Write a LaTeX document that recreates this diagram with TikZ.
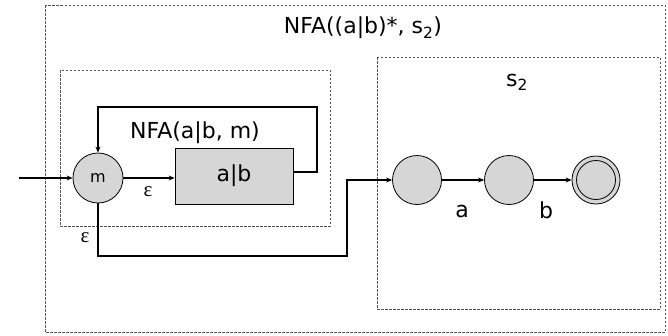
\documentclass[tikz,border=0pt]{standalone}
\usepackage{fontspec}
\setmainfont{DejaVu Sans}
\newfontfamily\epsfont{Liberation Serif}
\usetikzlibrary{arrows.meta}
\definecolor{stfill}{HTML}{D6D6D6}
\definecolor{framecol}{HTML}{555555}
\begin{document}
\begin{tikzpicture}[x=1pt,y=-1pt,
  frame/.style={draw=framecol,line width=0.8pt,dash pattern=on 2.5pt off 1.5pt},
  state/.style={circle,draw,line width=0.8pt,fill=stfill,minimum size=50pt,inner sep=0pt},
  subbox/.style={rectangle,draw,line width=0.8pt,fill=stfill,minimum width=118pt,minimum height=56pt,inner sep=0pt},
  arr/.style={line width=1.4pt,-{Stealth[length=6pt,width=5pt]}},
  lbl/.style={inner sep=0pt,font=\fontsize{22}{26}\selectfont},
  epslbl/.style={inner sep=0pt,font=\epsfont\fontsize{21}{24}\selectfont}]
\useasboundingbox (0,0) rectangle (668,335);
% enclosing frames
\draw[frame] (45,5) rectangle (665,332);
\draw[frame] (60,70) rectangle (330,226);
\draw[frame] (377,57) rectangle (660,309);
% frame captions
\node[lbl] (ttl) at (363,28) {NFA((a|b)*, s\textsubscript{2})};
\node[lbl] (sub) at (195,133) {NFA(a|b, m)};
\node[lbl] (s2) at (517,82) {s\textsubscript{2}};
% states
\node[state] (m) at (98,178) {\fontsize{16}{18}\selectfont m};
\node[subbox] (ab) at (234,176) {\fontsize{22}{26}\selectfont a|b};
\node[state,minimum size=49pt] (q1) at (417,180) {};
\node[state,minimum size=49pt] (q2) at (509,180) {};
\node[state,minimum size=48pt] (q3) at (596,180) {};
\draw[line width=0.8pt] (q3.center) circle[radius=19.5pt];
% helper points for the wiring
\coordinate (start) at (19,178);
\coordinate (loopc) at (317,107);
\coordinate (byp) at (347,256);
% transitions
\draw[arr] (start) -- (m.west);
\draw[arr] (m.east) -- (ab.west |- m.east);
\draw[arr] (ab.east |- 0,172) -| (loopc) -| (m.north);
\draw[arr] (m.south) |- (byp) |- (q1.west);
\draw[arr] (q1.east) -- (q2.west);
\draw[arr] (q2.east) -- (q3.west);
% transition labels
\node[epslbl] (e1) at (148,192) {ε};
\node[epslbl] (e2) at (85,238) {ε};
\node[lbl] (la) at (462,211) {a};
\node[lbl] (lb) at (546,210) {b};
\end{tikzpicture}
\end{document}
